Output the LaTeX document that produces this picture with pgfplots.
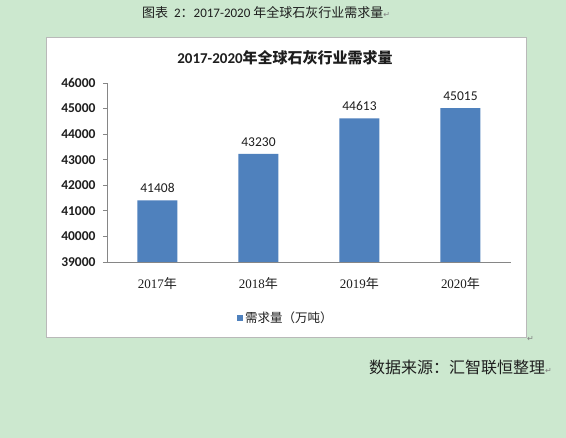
\documentclass[border=0pt]{standalone}
\usepackage{pgfplots}
\pgfplotsset{compat=1.18}
\usepackage{fontspec}
\setmainfont{Carlito}
\newfontfamily\cjk{Noto Sans CJK SC}
\newfontfamily\serif{Liberation Serif}
\newfontfamily\dv{DejaVu Sans}
\definecolor{bg}{RGB}{204,232,207}
\definecolor{barblue}{RGB}{79,129,189}
\definecolor{boxgray}{RGB}{185,185,185}
\definecolor{axgray}{RGB}{134,134,134}
\definecolor{txt}{RGB}{30,30,30}
\begin{document}
\begin{tikzpicture}[x=1pt,y=1pt]
\fill[bg] (0,0) rectangle (566,438);
\draw[boxgray, fill=white, line width=0.8pt] (46,101) rectangle (526,401);
\node[anchor=west, inner sep=0pt, text=txt, font=\fontsize{13}{13}\selectfont] at (142,425)
  {{\cjk 图表}\ \ 2{\cjk ：}2017-2020 {\cjk 年全球石灰行业需求量}{\dv\fontsize{8}{8}\selectfont\color{gray}↵}};
\node[inner sep=0pt, text=txt, font=\fontsize{15}{15}\selectfont] at (285,380)
  {{\bfseries 2017-2020}{\cjk\bfseries 年全球石灰行业需求量}};
\node[anchor=west, inner sep=0pt, text=txt, font=\fontsize{16}{16}\selectfont] at (369,71)
  {{\cjk 数据来源：汇智联恒整理}{\dv\fontsize{8}{8}\selectfont\color{gray}↵}};
\node[anchor=west, inner sep=0pt, font=\dv\fontsize{8}{8}\selectfont, text=gray] at (527,99) {↵};
\begin{axis}[
  at={(107pt,176pt)}, anchor=south west,
  scale only axis, width=404pt, height=179pt,
  xmin=-0.5, xmax=3.5, ymin=39000, ymax=46000,
  axis x line*=bottom, axis y line*=left,
  axis line style={axgray, line width=0.8pt, -},
  ytick={39000,40000,...,46000},
  scaled y ticks=false,
  xtick={0,1,2,3},
  xticklabels={{\serif 2017}{\cjk 年},{\serif 2018}{\cjk 年},{\serif 2019}{\cjk 年},{\serif 2020}{\cjk 年}},
  major x tick style={draw=none},
  extra x ticks={-0.5,0.5,1.5,2.5,3.5},
  extra x tick labels={},
  extra x tick style={tick style={axgray, line width=0.8pt}},
  tick align=outside, major tick length=4pt,
  ytick style={axgray, line width=0.8pt},
  yticklabel style={font=\bfseries\fontsize{13.5}{13.5}\selectfont, text=txt, xshift=-4pt,
    /pgf/number format/.cd, fixed, precision=0, set thousands separator={}, assume math mode=true},
  xticklabel style={font=\fontsize{13}{13}\selectfont, text=txt, yshift=-8pt},
  legend style={draw=none, fill=none, at={(0.443,-0.313)}, anchor=center, font=\fontsize{12.5}{12.5}\selectfont, text=txt},
  legend image code/.code={\fill[barblue] (0pt,-3pt) rectangle (6pt,3pt);},
  clip=false,
]
\addplot[ybar, fill=barblue, draw=none, bar width=40pt,
  nodes near coords,
  nodes near coords style={font=\fontsize{13.5}{13.5}\selectfont, text=txt, yshift=4pt,
    /pgf/number format/.cd, fixed, precision=0, set thousands separator={}, assume math mode=true}]
  coordinates {(0,41408) (1,43230) (2,44613) (3,45015)};
\addlegendentry{{\cjk 需求量（万吨）}}
\end{axis}
\end{tikzpicture}
\end{document}
